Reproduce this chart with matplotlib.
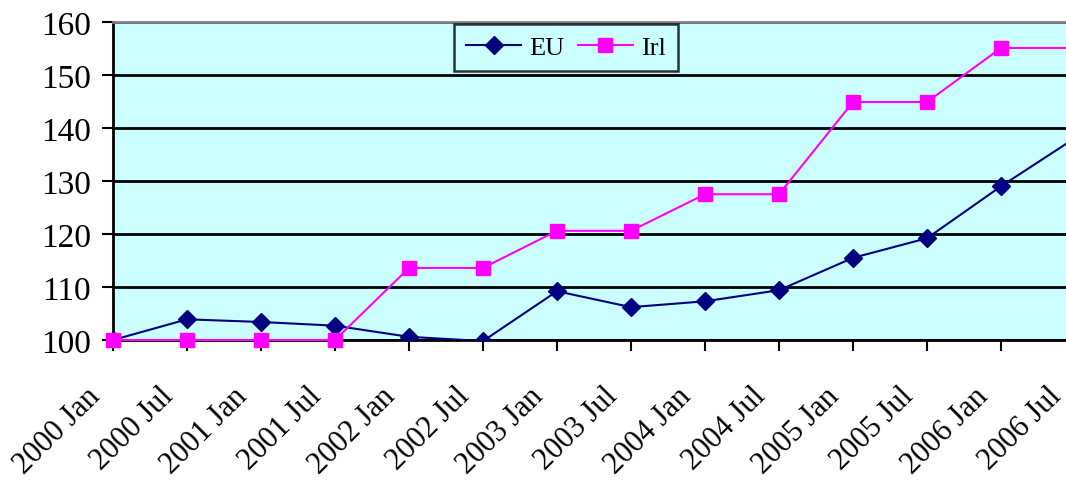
import numpy as np
import matplotlib.pyplot as plt
from matplotlib.transforms import ScaledTranslation

periods = ['2000 Jan', '2000 Jul', '2001 Jan', '2001 Jul', '2002 Jan', '2002 Jul',
           '2003 Jan', '2003 Jul', '2004 Jan', '2004 Jul', '2005 Jan', '2005 Jul',
           '2006 Jan', '2006 Jul']
eu = [100, 103.9, 103.4, 102.7, 100.6, 99.8, 109.2, 106.2, 107.3, 109.4,
      115.5, 119.2, 129.0, 138.1]
irl = [100, 100, 100, 100, 113.6, 113.6, 120.6, 120.6, 127.5, 127.5,
       144.9, 144.9, 155.1, 155.1]

plt.rcParams['font.family'] = ['Liberation Serif', 'DejaVu Serif']

fig = plt.figure(figsize=(10.66, 4.81), dpi=100)
# axes run a little past the right edge of the figure
ax = fig.add_axes([113/1066, 140/481, 962/1066, 318/481])
ax.set_facecolor('#CCFFFF')

x = np.arange(len(periods))
ax.plot(x, eu, color='#000080', lw=1.5, marker='D', ms=9, label='EU', zorder=3)
ax.plot(x, irl, color='#FF00FF', lw=1.5, marker='s', ms=9.5, label='Irl',
        zorder=4, clip_on=False)

ax.set_xlim(0, len(periods) - 1)
ax.set_ylim(100, 160)
ax.set_yticks(np.arange(100, 161, 10))
ax.grid(axis='y', color='black', lw=2)
ax.set_axisbelow(True)

# category labels drawn as rotated text below each tick
ax.set_xticks(x)
ax.set_xticklabels([])
ax.tick_params(axis='x', direction='out', length=8, width=1.5)
ax.tick_params(axis='y', direction='out', length=8, width=1.5, labelsize=24, pad=8)
lbl_trans = ax.get_xaxis_transform() + ScaledTranslation(-0.28, -0.41, fig.dpi_scale_trans)
for i, p in enumerate(periods):
    ax.text(i, 0, p, transform=lbl_trans, rotation=45, ha='right', va='top',
            rotation_mode='anchor', fontsize=22, clip_on=False)

for side in ['left', 'bottom']:
    ax.spines[side].set_linewidth(2)
    ax.spines[side].set_zorder(2.5)
ax.spines['top'].set_color('#808080')
ax.spines['top'].set_linewidth(2)
ax.spines['right'].set_visible(False)

leg = ax.legend(loc='upper left', bbox_to_anchor=(341/962, 0.995), ncol=2, fontsize=19,
                frameon=True, fancybox=False, edgecolor='black', borderpad=0.45,
                handlelength=2.1, columnspacing=0.5, handletextpad=0.3,
                borderaxespad=0.0)
leg.get_frame().set_linewidth(1.8)
leg.get_frame().set_facecolor('#CCFFFF')

fig.savefig('out.png', dpi=100)
